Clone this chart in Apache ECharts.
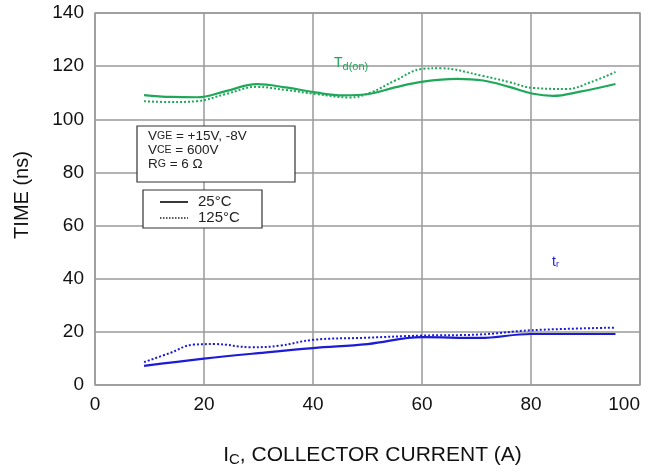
<!DOCTYPE html>
<html>
<head>
    <meta charset="UTF-8">
    <title>TIME vs IC</title>
    <script src="https://cdn.jsdelivr.net/npm/echarts@6/dist/echarts.min.js"></script>
    <style>
        html, body { margin: 0; padding: 0; background: #fff; }
        #chart { width: 658px; height: 472px; }
    </style>
</head>
<body>
<div id="chart"></div>
<script>
    // 数据 (IC in A, time in ns)
    var xTicks = [0, 20, 40, 60, 80, 100];
    var yTicks = [0, 20, 40, 60, 80, 100, 120, 140];

    var tdon25 = [[9, 109.1], [14, 108.4], [18.7, 108.3], [24, 110.6], [29.7, 113.2], [35, 112.0], [40.7, 110.0],
        [45.5, 109.0], [50.5, 109.6], [55, 112.0], [60.2, 114.2], [66.4, 115.2], [71.2, 114.6], [76, 112.2],
        [80.4, 109.6], [84, 108.8], [89, 110.4], [95.5, 113.3]];
    var tdon125 = [[9, 106.8], [14, 106.5], [18.7, 106.8], [24, 109.5], [29.7, 112.2], [35, 111.0], [40.7, 109.5],
        [46.8, 108.2], [50.5, 110.0], [55, 114.5], [60.2, 119.0], [63.3, 119.2], [71.2, 116.3], [76, 114.0],
        [80.4, 111.8], [86.6, 111.4], [91, 114.0], [95.5, 117.8]];
    var tr25 = [[9, 7.2], [20, 9.9], [30, 12.0], [40, 13.9], [50, 15.4], [60, 18.0], [70.5, 17.7], [80, 19.2], [95.5, 19.2]];
    var tr125 = [[9, 8.6], [13.7, 12.0], [18.1, 15.2], [21.9, 15.4], [28.8, 14.2], [33.9, 14.8], [40, 17.0],
        [50, 17.8], [60, 18.6], [70.5, 19.0], [80, 20.6], [95.5, 21.6]];

    var green = '#1fa85a';
    var blue = '#1c1cd6';
    var fontFam = 'Liberation Sans, Arial, sans-serif';

    var myChart = echarts.init(document.getElementById('chart'));

    function lineSeries(name, data, color, type) {
        return {
            name: name,
            type: 'line',
            data: data,
            smooth: 0.4,
            showSymbol: false,
            lineStyle: {color: color, width: type == 'solid' ? 2.2 : 2, type: type},
            z: 5
        };
    }

    var option = {
        animation: false,
        grid: {
            left: 95, right: 18, top: 13, bottom: 86,
            show: true, borderColor: '#9a9a9a', borderWidth: 1.5
        },
        xAxis: {
            type: 'value',
            min: xTicks[0], max: xTicks[xTicks.length - 1], interval: 20,
            name: 'I{s|C}, COLLECTOR CURRENT (A)',
            nameLocation: 'middle',
            nameGap: 58,
            nameTextStyle: {
                fontSize: 21, color: '#111', fontFamily: fontFam, padding: [0, 0, 0, 10],
                rich: {s: {fontSize: 15, verticalAlign: 'bottom', padding: [9, 0, 0, 0], color: '#111', fontFamily: fontFam}}
            },
            axisLine: {show: false},
            axisTick: {show: false},
            axisLabel: {fontSize: 19, color: '#111', fontFamily: fontFam, margin: 10, alignMaxLabel: 'right'},
            splitLine: {show: true, lineStyle: {color: '#9a9a9a', width: 1.5}}
        },
        yAxis: {
            type: 'value',
            min: yTicks[0], max: yTicks[yTicks.length - 1], interval: 20,
            name: 'TIME (ns)',
            nameLocation: 'middle',
            nameGap: 63,
            nameTextStyle: {fontSize: 20, color: '#111', fontFamily: fontFam, padding: [0, 0, 0, 8]},
            axisLine: {show: false},
            axisTick: {show: false},
            axisLabel: {fontSize: 19, color: '#111', fontFamily: fontFam, margin: 11},
            splitLine: {show: true, lineStyle: {color: '#9a9a9a', width: 1.5}}
        },
        series: [
            lineSeries('Td(on) 25', tdon25, green, 'solid'),
            lineSeries('Td(on) 125', tdon125, green, 'dotted'),
            lineSeries('tr 25', tr25, blue, 'solid'),
            lineSeries('tr 125', tr125, blue, 'dotted')
        ],
        graphic: [
            // 条件框
            {type: 'rect', shape: {x: 137, y: 126, width: 158, height: 56},
                style: {fill: '#fff', stroke: '#333', lineWidth: 1.2}, z: 10},
            {type: 'text', left: 148, top: 129, z: 11,
                style: {
                    text: 'V{s|GE} = +15V, -8V\nV{s|CE} = 600V\nR{s|G} = 6 Ω',
                    fontSize: 13.5, lineHeight: 14, fill: '#222', fontFamily: fontFam,
                    rich: {s: {fontSize: 10.5, lineHeight: 14, fill: '#222', fontFamily: fontFam}}
                }},
            // 图例框
            {type: 'rect', shape: {x: 143, y: 190, width: 119, height: 38},
                style: {fill: '#fff', stroke: '#333', lineWidth: 1.2}, z: 10},
            {type: 'line', shape: {x1: 160, y1: 202, x2: 188, y2: 202},
                style: {stroke: '#222', lineWidth: 1.8}, z: 11},
            {type: 'line', shape: {x1: 160, y1: 218, x2: 188, y2: 218},
                style: {stroke: '#222', lineWidth: 1.5, lineDash: [1.5, 1.5]}, z: 11},
            {type: 'text', left: 198, top: 194, z: 11,
                style: {text: '25°C', fontSize: 15, fill: '#222', fontFamily: fontFam}},
            {type: 'text', left: 198, top: 210, z: 11,
                style: {text: '125°C', fontSize: 15, fill: '#222', fontFamily: fontFam}},
            // 曲线标签
            {type: 'text', left: 334, top: 56, z: 11,
                style: {
                    text: 'T{s|d(on)}', fontSize: 14, fill: green, fontFamily: fontFam,
                    rich: {s: {fontSize: 11, fill: green, padding: [8, 0, 0, 0], fontFamily: fontFam}}
                }},
            {type: 'text', left: 552, top: 255, z: 11,
                style: {
                    text: 't{s|r}', fontSize: 14, fill: blue, fontFamily: fontFam,
                    rich: {s: {fontSize: 9, fill: blue, padding: [6, 0, 0, 0], fontFamily: fontFam}}
                }}
        ]
    };
    myChart.setOption(option);
</script>
</body>
</html>
